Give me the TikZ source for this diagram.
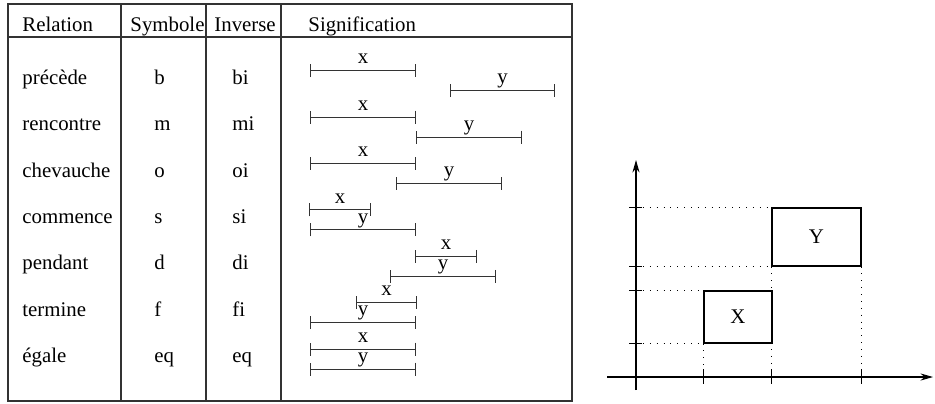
\documentclass[tikz,border=0pt]{standalone}
\usepackage{fontspec}
\setmainfont{Liberation Serif}
\usetikzlibrary{arrows.meta}

\begin{document}
\begin{tikzpicture}[x=0.48pt, y=-0.48pt, font=\fontsize{10}{12}\selectfont,
    grid/.style={draw=black!80, line width=0.6pt},
    cell/.style={anchor=base west, inner sep=0pt},
    span/.style={{Bar[width=6.2pt]}-{Bar[width=6.2pt]}, line width=0.5pt, draw=black!80},
    tag/.style={anchor=base, inner sep=0pt, yshift=3.3pt},
    axis/.style={-{Stealth[length=6pt, width=3.4pt]}, line width=0.5pt},
    tick/.style={line width=0.5pt},
    heavy/.style={line width=1.2pt},
    guide/.style={line width=0.5pt, dash pattern=on 0.5pt off 2.8pt},
    box/.style={draw, line width=0.5pt, inner sep=0pt}]

    \useasboundingbox (0,0) rectangle (935,403);

    % Table frame
    \draw [grid] (8,4) rectangle (572,401);
    \draw [grid] (8,37) -- (572,37);
    \draw [grid] (121,4) -- (121,401);
    \draw [grid] (206,4) -- (206,401);
    \draw [grid] (281,4) -- (281,401);

    % Header
    \node [cell] (hrel) at (22,31) {Relation};
    \node [cell] (hsym) at (130,31) {Symbole};
    \node [cell] (hinv) at (214,31) {Inverse};
    \node [cell] (hsig) at (308,31) {Signification};

    % Rows
    \node [cell] (rel1) at (22,84.2) {précède};
    \node [cell] (sym1) at (154,84.2) {b};
    \node [cell] (inv1) at (232,84.2) {bi};
    \node [cell] (rel2) at (22,130.6) {rencontre};
    \node [cell] (sym2) at (154,130.6) {m};
    \node [cell] (inv2) at (232,130.6) {mi};
    \node [cell] (rel3) at (22,177) {chevauche};
    \node [cell] (sym3) at (154,177) {o};
    \node [cell] (inv3) at (232,177) {oi};
    \node [cell] (rel4) at (22,223.4) {commence};
    \node [cell] (sym4) at (154,223.4) {s};
    \node [cell] (inv4) at (232,223.4) {si};
    \node [cell] (rel5) at (22,269.8) {pendant};
    \node [cell] (sym5) at (154,269.8) {d};
    \node [cell] (inv5) at (232,269.8) {di};
    \node [cell] (rel6) at (22,316.2) {termine};
    \node [cell] (sym6) at (154,316.2) {f};
    \node [cell] (inv6) at (232,316.2) {fi};
    \node [cell] (rel7) at (22,362.6) {égale};
    \node [cell] (sym7) at (154,362.6) {eq};
    \node [cell] (inv7) at (232,362.6) {eq};

    % Intervals
    \draw [span] (310,70.7) -- node[tag] (x1) {x} (416,70.7);
    \draw [span] (450,90.7) -- node[tag] (y1) {y} (555,90.7);
    \draw [span] (310,117.1) -- node[tag] (x2) {x} (416,117.1);
    \draw [span] (416,137.1) -- node[tag] (y2) {y} (522,137.1);
    \draw [span] (310,163.5) -- node[tag] (x3) {x} (416,163.5);
    \draw [span] (396,183.5) -- node[tag] (y3) {y} (502,183.5);
    \draw [span] (309,209.9) -- node[tag] (x4) {x} (371,209.9);
    \draw [span] (310,229.9) -- node[tag] (y4) {y} (416,229.9);
    \draw [span] (415,256.3) -- node[tag] (x5) {x} (477,256.3);
    \draw [span] (390,276.3) -- node[tag] (y5) {y} (496,276.3);
    \draw [span] (356,302.7) -- node[tag] (x6) {x} (417,302.7);
    \draw [span] (310,322.7) -- node[tag] (y6) {y} (416,322.7);
    \draw [span] (310,349.1) -- node[tag] (x7) {x} (416,349.1);
    \draw [span] (310,369.1) -- node[tag] (y7) {y} (416,369.1);

    % Plane
    \coordinate (o) at (636,377);
    \coordinate (ybot) at (636,390);
    \coordinate (ytop) at (636,160);
    \coordinate (xleft) at (607,377);
    \coordinate (xright) at (933,377);
    \node [box, minimum width=32.64pt, minimum height=24.96pt] (X) at (738,317) {X};
    \node [box, minimum width=42.72pt, minimum height=27.84pt] (Y) at (816.5,237) {Y};

    \draw [axis] (ybot) -- (ytop);
    \draw [axis] (xleft) -- (xright);
    \draw [heavy] (o |- Y.north west) -- (o |- X.south west);
    \draw [heavy] (X.south west |- o) -- (Y.south east |- o);

    \draw [tick] (o |- Y.north west) ++(-7,0) -- ++(13,0);
    \draw [tick] (o |- Y.south west) ++(-7,0) -- ++(13,0);
    \draw [tick] (o |- X.north west) ++(-7,0) -- ++(13,0);
    \draw [tick] (o |- X.south west) ++(-7,0) -- ++(13,0);
    \draw [tick] (X.south west |- o) ++(0,-8) -- ++(0,15);
    \draw [tick] (Y.south west |- o) ++(0,-8) -- ++(0,15);
    \draw [tick] (Y.south east |- o) ++(0,-8) -- ++(0,15);

    \draw [guide] (o |- Y.north west) -- (Y.north west);
    \draw [guide] (o |- Y.south west) -- (Y.south west);
    \draw [guide] (o |- X.north west) -- (X.north west);
    \draw [guide] (o |- X.south west) -- (X.south west);
    \draw [guide] (X.south west) -- (X.south west |- o);
    \draw [guide] (Y.south west) -- (Y.south west |- o);
    \draw [guide] (Y.south east) -- (Y.south east |- o);
  \end{tikzpicture}
\end{document}
